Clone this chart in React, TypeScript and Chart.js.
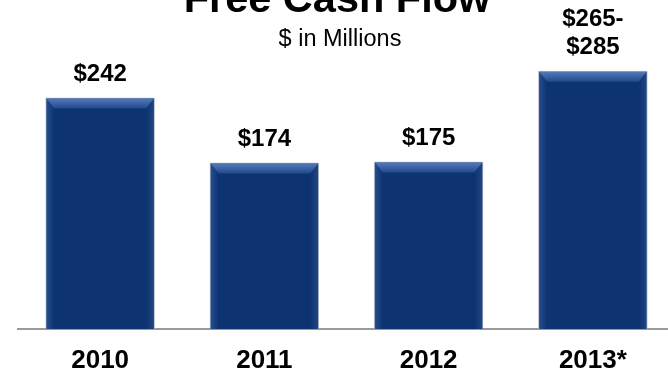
import { useEffect, useRef } from "react";
import { Chart, registerables } from "chart.js";

Chart.register(...registerables);

const years = ["2010", "2011", "2012", "2013*"];
const freeCashFlow = [242, 174, 175, 270];
const valueLabels = [["$242"], ["$174"], ["$175"], ["$265-", "$285"]];
const titleText = "Free Cash Flow";
const subtitleText = "$ in Millions";
const yMax = 300;

const FONT = "'Liberation Sans', Arial, Helvetica, sans-serif";

const bevelPlugin = {
  id: "bevel",
  afterDatasetsDraw(chart: any) {
    const ctx = chart.ctx;
    const meta = chart.getDatasetMeta(0);
    meta.data.forEach((bar: any) => {
      const { x, y, base, width } = bar.getProps(["x", "y", "base", "width"], true);
      const l = x - width / 2 + 1;
      const r = x + width / 2 - 1;
      const t = y + 1;
      const b = base;
      const d = 10;
      const s = 8;
      ctx.save();
      const gl = ctx.createLinearGradient(l, 0, l + s, 0);
      gl.addColorStop(0, "rgba(70,110,180,0.45)");
      gl.addColorStop(1, "rgba(70,110,180,0)");
      ctx.fillStyle = gl;
      ctx.beginPath();
      ctx.moveTo(l, t);
      ctx.lineTo(l + s, t + d);
      ctx.lineTo(l + s, b);
      ctx.lineTo(l, b);
      ctx.closePath();
      ctx.fill();
      const gr = ctx.createLinearGradient(r, 0, r - s, 0);
      gr.addColorStop(0, "rgba(60,95,160,0.4)");
      gr.addColorStop(1, "rgba(60,95,160,0)");
      ctx.fillStyle = gr;
      ctx.beginPath();
      ctx.moveTo(r, t);
      ctx.lineTo(r - s, t + d);
      ctx.lineTo(r - s, b);
      ctx.lineTo(r, b);
      ctx.closePath();
      ctx.fill();
      const g = ctx.createLinearGradient(0, t, 0, t + d);
      g.addColorStop(0, "#5479b8");
      g.addColorStop(0.5, "#3a62a4");
      g.addColorStop(1, "#1f4a8c");
      ctx.fillStyle = g;
      ctx.beginPath();
      ctx.moveTo(l, t);
      ctx.lineTo(r, t);
      ctx.lineTo(r - s, t + d);
      ctx.lineTo(l + s, t + d);
      ctx.closePath();
      ctx.fill();
      ctx.restore();
    });
  },
};

const textPlugin = {
  id: "texts",
  afterDraw(chart: any) {
    const ctx = chart.ctx;
    ctx.save();
    ctx.fillStyle = "#000";
    ctx.textAlign = "center";
    ctx.textBaseline = "alphabetic";
    ctx.font = `bold 41.5px ${FONT}`;
    ctx.fillText(titleText, 337, 12);
    ctx.font = `23.5px ${FONT}`;
    ctx.fillText(subtitleText, 340, 45.7);
    ctx.font = `bold 24px ${FONT}`;
    const meta = chart.getDatasetMeta(0);
    meta.data.forEach((bar: any, i: number) => {
      const lines = valueLabels[i];
      lines.forEach((line: string, j: number) => {
        const yy = bar.y - 16.5 - (lines.length - 1 - j) * 28;
        ctx.fillText(line, bar.x, yy);
      });
    });
    ctx.restore();
  },
};

export default function App() {
  const ref = useRef<HTMLCanvasElement>(null);
  useEffect(() => {
    const chart = new Chart(ref.current as HTMLCanvasElement, {
      type: "bar",
      data: {
        labels: years,
        datasets: [
          {
            data: freeCashFlow,
            backgroundColor: "#0d3371",
            borderColor: "#b9bec8",
            borderWidth: 1,
            categoryPercentage: 1,
            barPercentage: 0.667,
          },
        ],
      },
      options: {
        responsive: false,
        animation: false,
        layout: { padding: { top: 42, left: 18, right: 1, bottom: -20 } },
        plugins: {
          legend: { display: false },
          tooltip: { enabled: false },
          title: { display: false },
        },
        scales: {
          x: {
            grid: { display: false, drawTicks: false },
            border: { display: true, color: "#9a9a9a", width: 2 },
            ticks: {
              color: "#000",
              font: { family: FONT, size: 26, weight: "bold", lineHeight: 1 },
              padding: 19,
            },
          },
          y: { display: false, min: 0, max: yMax },
        },
      },
      plugins: [bevelPlugin, textPlugin],
    } as any);
    return () => chart.destroy();
  }, []);
  return (
    <div
      style={{
        position: "fixed",
        left: 0,
        top: 0,
        width: 668,
        height: 373,
        overflow: "hidden",
        background: "#fff",
      }}
    >
      <canvas ref={ref} width={676} height={373} style={{ display: "block" }} />
    </div>
  );
}
